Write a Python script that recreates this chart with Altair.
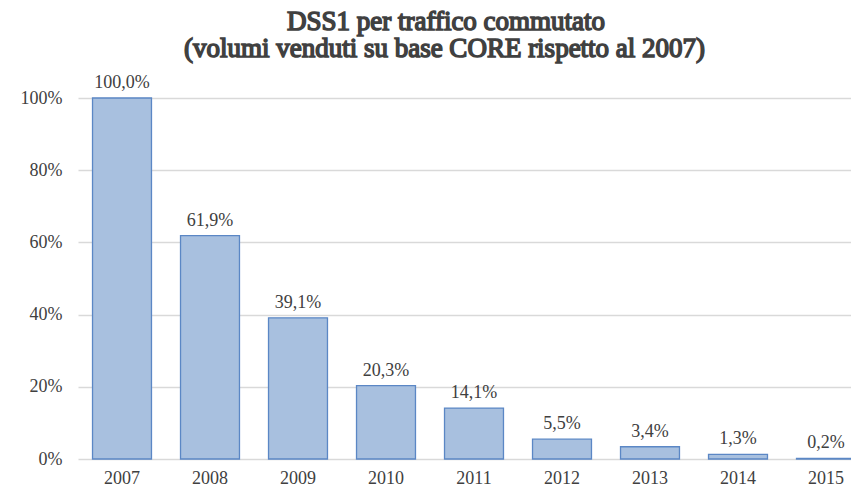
import altair as alt
import pandas as pd

years = ["2007", "2008", "2009", "2010", "2011", "2012", "2013", "2014", "2015"]
values = [100.0, 61.9, 39.1, 20.3, 14.1, 5.5, 3.4, 1.3, 0.2]
labels = [f"{v:.1f}".replace(".", ",") + "%" for v in values]
y_ticks = [0, 20, 40, 60, 80, 100]
title_lines = ["DSS1 per traffico commutato", "(volumi venduti su base CORE rispetto al 2007)"]

df = pd.DataFrame({"year": years, "value": values, "label": labels})

FONT = "Liberation Serif"
TXT = "#404040"

x = alt.X("year:N", sort=years, title=None,
          scale=alt.Scale(paddingInner=0.33, paddingOuter=0.165),
          axis=alt.Axis(labelAngle=0, labelFont=FONT, labelFontSize=18, labelColor=TXT,
                        ticks=False, domain=False, labelPadding=10, grid=False))
y = alt.Y("value:Q", title=None,
          scale=alt.Scale(domain=[0, 100], nice=False),
          axis=alt.Axis(values=y_ticks, labelExpr="datum.value + '%'", labelFont=FONT,
                        labelFontSize=18, labelColor=TXT, ticks=False, domain=False,
                        labelPadding=16, gridColor="#d9d9d9", gridWidth=1.3))

bars = alt.Chart(df).mark_bar(fill="#A8C0DF", stroke="#5B87C5", strokeWidth=1.3).encode(x=x, y=y)
text = alt.Chart(df).mark_text(baseline="bottom", dy=-6, font=FONT, fontSize=18, color=TXT).encode(
    x=alt.X("year:N", sort=years), y="value:Q", text="label:N")

title_style = dict(font=FONT, fontSize=27, color=TXT, stroke=TXT, strokeWidth=1.5,
                   align="center", baseline="alphabetic")
t1 = alt.Chart(pd.DataFrame({"t": title_lines[:1]})).mark_text(**title_style).encode(
    text="t:N", x=alt.value(368), y=alt.value(-68))
t2 = alt.Chart(pd.DataFrame({"t": title_lines[1:]})).mark_text(**title_style).encode(
    text="t:N", x=alt.value(366.5), y=alt.value(-41))

chart = alt.layer(bars, text, t1, t2).properties(
    width=792, height=361,
    autosize=alt.AutoSizeParams(type="none"),
    padding={"left": 70, "top": 90, "right": -19, "bottom": 28},
).configure_view(stroke=None)

chart.save("out.html", embed_options={"renderer": "svg", "actions": False})
